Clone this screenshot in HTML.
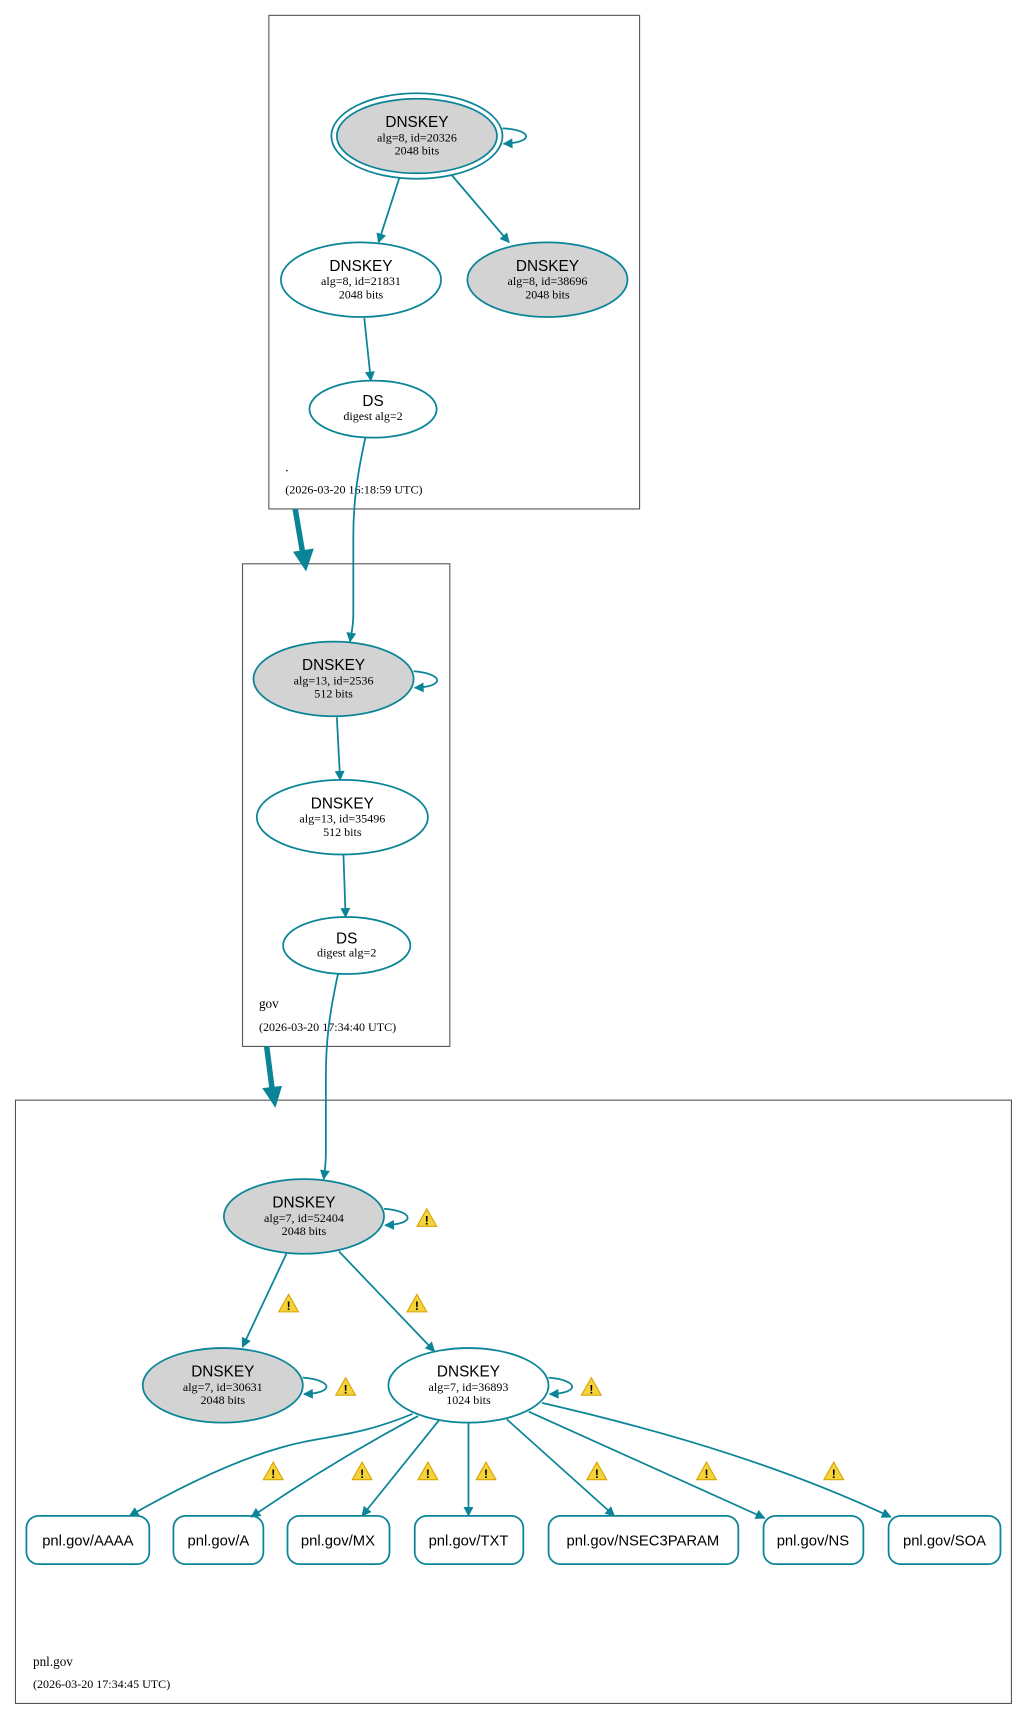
<!DOCTYPE html>
<html><head><meta charset="utf-8"><style>
html,body{margin:0;padding:0;background:#fff;}
svg{display:block;}
.s{font-family:"Liberation Sans",sans-serif;font-size:14px;fill:#000;text-anchor:middle;}
.q{font-family:"Liberation Sans",sans-serif;font-size:13.5px;fill:#000;text-anchor:middle;}
.r{font-family:"Liberation Serif",serif;font-size:11px;fill:#000;text-anchor:middle;}
.l{font-family:"Liberation Serif",serif;fill:#000;}
.e{fill:none;stroke:#0a8598;stroke-width:1.6;}
.n{stroke:#0a8598;stroke-width:1.6;}
.c{fill:none;stroke:#555;stroke-width:1;}
</style></head><body>
<svg width="1028" height="1721" viewBox="0 0 937 1569" xmlns="http://www.w3.org/2000/svg">
<defs>
<marker id="a" viewBox="0 0 10 10" refX="9" refY="5" markerWidth="10" markerHeight="9" markerUnits="userSpaceOnUse" orient="auto"><path d="M0,0L10,5L0,10z" fill="#0a8598"/></marker>
<g id="w"><path d="M0,-8L9,8L-9,8z" fill="#f5d33a" stroke="#d9a400" stroke-width="1"/><text x="0" y="6.5" font-family="Liberation Sans" font-weight="bold" font-size="11" text-anchor="middle">!</text></g>
</defs>
<rect class="c" x="245" y="14" width="338" height="450"/>
<text class="l" x="260" y="430" font-size="12">.</text>
<text class="l" x="260" y="450" font-size="11">(2026-03-20 16:18:59 UTC)</text>
<rect class="c" x="221" y="514" width="189" height="440"/>
<text class="l" x="236" y="919" font-size="12">gov</text>
<text class="l" x="236" y="940" font-size="11">(2026-03-20 17:34:40 UTC)</text>
<rect class="c" x="14" y="1003" width="908" height="550"/>
<text class="l" x="30" y="1519" font-size="12">pnl.gov</text>
<text class="l" x="30" y="1539" font-size="11">(2026-03-20 17:34:45 UTC)</text>
<path d="M269,464L276,505" stroke="#0a8598" stroke-width="5" fill="none"/>
<path d="M267,503L286,500L279,521z" fill="#0a8598"/>
<path d="M243,954L248,993" stroke="#0a8598" stroke-width="5" fill="none"/>
<path d="M239,992L257,990L251,1010z" fill="#0a8598"/>
<ellipse class="n" cx="380" cy="124" rx="78" ry="39" fill="none"/>
<ellipse class="n" cx="380" cy="124" rx="73" ry="34" fill="#d3d3d3"/>
<text class="s" x="380" y="116">DNSKEY</text><text class="r" x="380" y="129">alg=8, id=20326</text><text class="r" x="380" y="141">2048 bits</text>
<path class="e" d="M458,117C485,118 488,130 459,131" marker-end="url(#a)"/>
<ellipse class="n" cx="329" cy="255" rx="73" ry="34" fill="#fff"/>
<text class="s" x="329" y="247">DNSKEY</text><text class="r" x="329" y="260">alg=8, id=21831</text><text class="r" x="329" y="272">2048 bits</text>
<ellipse class="n" cx="499" cy="255" rx="73" ry="34" fill="#d3d3d3"/>
<text class="s" x="499" y="247">DNSKEY</text><text class="r" x="499" y="260">alg=8, id=38696</text><text class="r" x="499" y="272">2048 bits</text>
<ellipse class="n" cx="340" cy="373" rx="58" ry="26" fill="#fff"/>
<text class="s" x="340" y="370">DS</text><text class="r" x="340" y="383">digest alg=2</text>
<path class="e" d="M364,162L345,221" marker-end="url(#a)"/>
<path class="e" d="M412,160L464,221" marker-end="url(#a)"/>
<path class="e" d="M332,290L338,347" marker-end="url(#a)"/>
<path class="e" d="M333,399C325,435 322,460 322,490L322,560C322,572 320,578 319,585" marker-end="url(#a)"/>
<ellipse class="n" cx="304" cy="619" rx="73" ry="34" fill="#d3d3d3"/>
<text class="s" x="304" y="611">DNSKEY</text><text class="r" x="304" y="624">alg=13, id=2536</text><text class="r" x="304" y="636">512 bits</text>
<path class="e" d="M377,612C404,614 407,626 378,627" marker-end="url(#a)"/>
<ellipse class="n" cx="312" cy="745" rx="78" ry="34" fill="#fff"/>
<text class="s" x="312" y="737">DNSKEY</text><text class="r" x="312" y="750">alg=13, id=35496</text><text class="r" x="312" y="762">512 bits</text>
<ellipse class="n" cx="316" cy="862" rx="58" ry="26" fill="#fff"/>
<text class="s" x="316" y="860">DS</text><text class="r" x="316" y="872">digest alg=2</text>
<path class="e" d="M307,654L310,711" marker-end="url(#a)"/>
<path class="e" d="M313,779L315,836" marker-end="url(#a)"/>
<path class="e" d="M308,888C300,925 297,950 297,980L297,1050C297,1062 296,1068 295,1075" marker-end="url(#a)"/>
<ellipse class="n" cx="277" cy="1109" rx="73" ry="34" fill="#d3d3d3"/>
<text class="s" x="277" y="1101">DNSKEY</text><text class="r" x="277" y="1114">alg=7, id=52404</text><text class="r" x="277" y="1126">2048 bits</text>
<path class="e" d="M350,1102C377,1104 380,1116 351,1117" marker-end="url(#a)"/>
<use href="#w" x="389" y="1110"/>
<ellipse class="n" cx="203" cy="1263" rx="73" ry="34" fill="#d3d3d3"/>
<text class="s" x="203" y="1255">DNSKEY</text><text class="r" x="203" y="1268">alg=7, id=30631</text><text class="r" x="203" y="1280">2048 bits</text>
<path class="e" d="M276,1256C303,1258 306,1270 277,1271" marker-end="url(#a)"/>
<use href="#w" x="315" y="1264"/>
<ellipse class="n" cx="427" cy="1263" rx="73" ry="34" fill="#fff"/>
<text class="s" x="427" y="1255">DNSKEY</text><text class="r" x="427" y="1268">alg=7, id=36893</text><text class="r" x="427" y="1280">1024 bits</text>
<path class="e" d="M500,1256C527,1258 530,1270 501,1271" marker-end="url(#a)"/>
<use href="#w" x="539" y="1264"/>
<path class="e" d="M261,1143L221,1228" marker-end="url(#a)"/>
<use href="#w" x="263" y="1188"/>
<path class="e" d="M309,1141L396,1232" marker-end="url(#a)"/>
<use href="#w" x="380" y="1188"/>
<g fill="#fff" class="n">
<rect x="24" y="1382" width="112" height="44" rx="11"/>
<rect x="158" y="1382" width="82" height="44" rx="11"/>
<rect x="262" y="1382" width="93" height="44" rx="11"/>
<rect x="378" y="1382" width="99" height="44" rx="11"/>
<rect x="500" y="1382" width="173" height="44" rx="11"/>
<rect x="696" y="1382" width="91" height="44" rx="11"/>
<rect x="810" y="1382" width="102" height="44" rx="11"/>
</g>
<text class="q" x="80" y="1409">pnl.gov/AAAA</text>
<text class="q" x="199" y="1409">pnl.gov/A</text>
<text class="q" x="308" y="1409">pnl.gov/MX</text>
<text class="q" x="427" y="1409">pnl.gov/TXT</text>
<text class="q" x="586" y="1409">pnl.gov/NSEC3PARAM</text>
<text class="q" x="741" y="1409">pnl.gov/NS</text>
<text class="q" x="861" y="1409">pnl.gov/SOA</text>
<path class="e" d="M376,1289C320,1312 295,1308 255,1320C210,1333 160,1358 118,1382" marker-end="url(#a)"/>
<path class="e" d="M381,1291C330,1318 280,1348 229,1383" marker-end="url(#a)"/>
<path class="e" d="M400,1295L330,1382" marker-end="url(#a)"/>
<path class="e" d="M427,1297L427,1382" marker-end="url(#a)"/>
<path class="e" d="M462,1294L560,1382" marker-end="url(#a)"/>
<path class="e" d="M482,1287L697,1384" marker-end="url(#a)"/>
<path class="e" d="M494,1279C620,1308 720,1340 812,1383" marker-end="url(#a)"/>
<use href="#w" x="249" y="1341"/>
<use href="#w" x="330" y="1341"/>
<use href="#w" x="390" y="1341"/>
<use href="#w" x="443" y="1341"/>
<use href="#w" x="544" y="1341"/>
<use href="#w" x="644" y="1341"/>
<use href="#w" x="760" y="1341"/>
</svg>
</body></html>
